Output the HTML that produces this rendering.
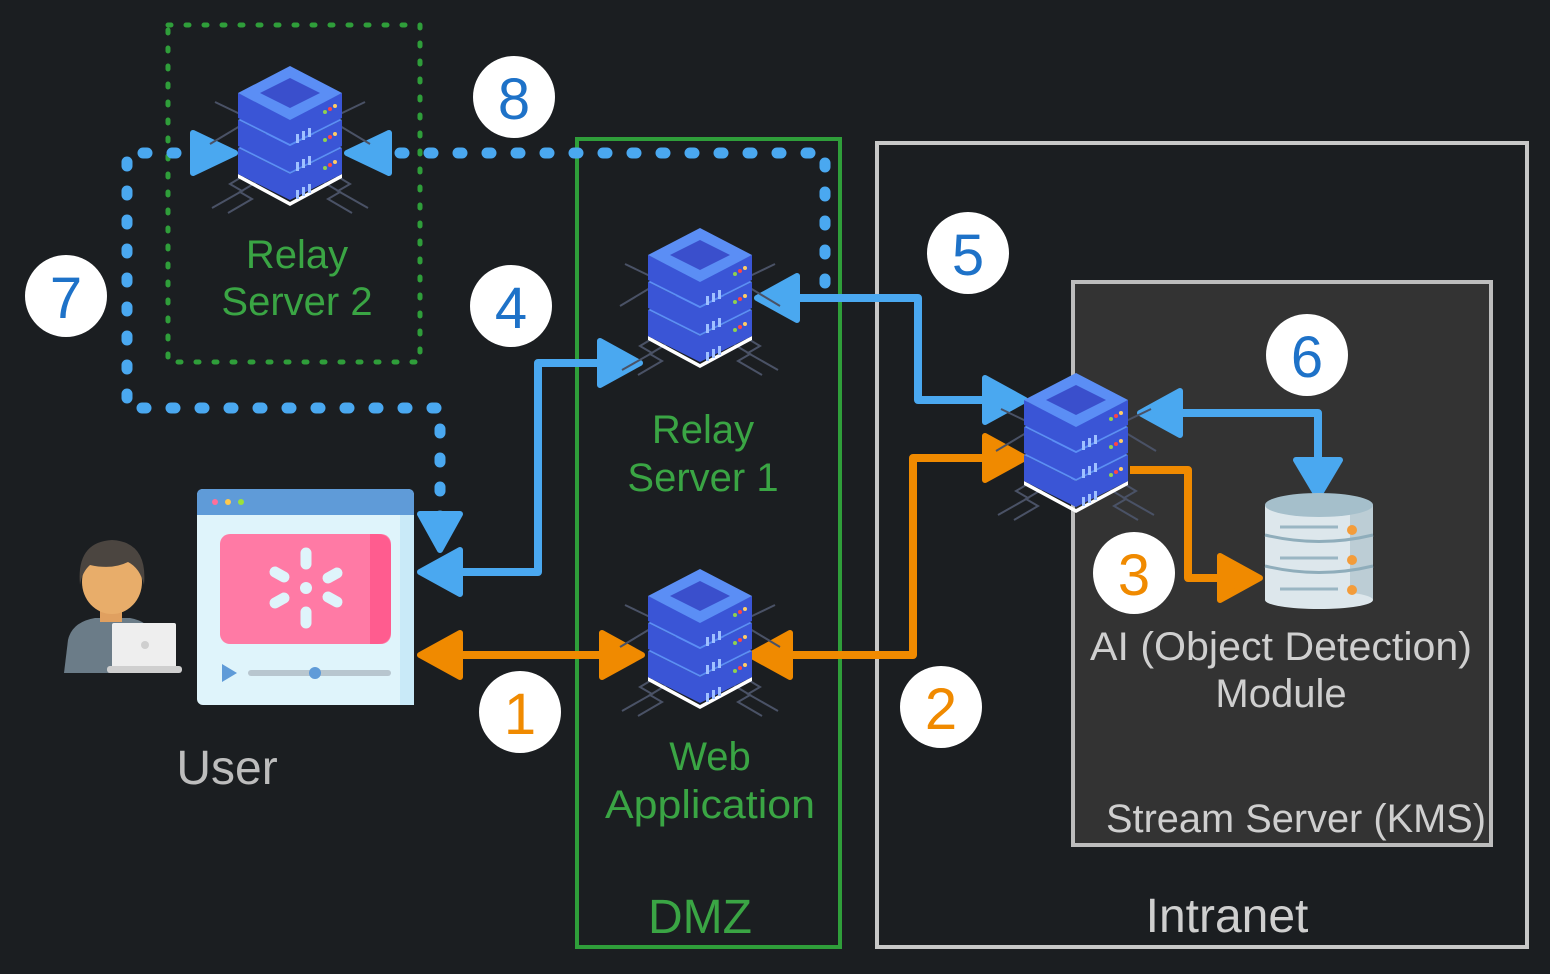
<!DOCTYPE html>
<html><head><meta charset="utf-8"><style>
html,body{margin:0;padding:0;background:#1b1e21;}
svg{display:block}
text{font-family:"Liberation Sans","DejaVu Sans",sans-serif;}
</style></head><body>
<svg width="1550" height="974" viewBox="0 0 1550 974" xmlns="http://www.w3.org/2000/svg">
<defs>
<g id="srv">
  <g stroke="#4a5266" stroke-width="2" fill="none">
    <path d="M-30 100 L-60 118 L-48 125 L-78 142"/><path d="M-20 108 L-50 126 L-38 133 L-62 147"/>
    <path d="M30 100 L60 118 L48 125 L78 142"/><path d="M20 108 L50 126 L38 133 L62 147"/>
    <path d="M-50 60 L-80 78"/><path d="M50 60 L80 78"/><path d="M-50 48 L-75 36"/><path d="M50 48 L75 36"/>
  </g>
  <path d="M-52 108 L0 136 L52 108 L52 112 L0 140 L-52 112Z" fill="#fff"/>
  <path d="M-52 82 L0 108 L0 134 L-52 108Z" fill="#3a55d6"/>
  <path d="M52 82 L0 108 L0 134 L52 108Z" fill="#3a55d6"/>
  <path d="M0 56 L52 82 L0 108 L-52 82Z" fill="#5b8ef5"/>
  <path d="M-52 54 L0 80 L0 106 L-52 80Z" fill="#3a55d6"/>
  <path d="M52 54 L0 80 L0 106 L52 80Z" fill="#3a55d6"/>
  <path d="M0 28 L52 54 L0 80 L-52 54Z" fill="#5b8ef5"/>
  <path d="M-52 27 L0 53 L0 78 L-52 52Z" fill="#3a55d6"/>
  <path d="M52 27 L0 53 L0 78 L52 52Z" fill="#3a55d6"/>
  <path d="M0 0 L52 27 L0 54 L-52 27Z" fill="#5b8ef5"/>
  <path d="M0 12 L30 27 L0 42 L-30 27Z" fill="#3a4fcc"/>
  <g fill="#9fc0ff"><rect x="6" y="68" width="3" height="9"/><rect x="12" y="65" width="3" height="9"/><rect x="18" y="62" width="3" height="9"/>
  <rect x="6" y="96" width="3" height="9"/><rect x="12" y="93" width="3" height="9"/><rect x="18" y="90" width="3" height="9"/>
  <rect x="6" y="124" width="3" height="9"/><rect x="12" y="121" width="3" height="9"/><rect x="18" y="118" width="3" height="9"/></g>
  <g><circle cx="35" cy="46" r="2" fill="#8fd14f"/><circle cx="40" cy="43" r="2" fill="#f44"/><circle cx="45" cy="40" r="2" fill="#fc6"/>
  <circle cx="35" cy="74" r="2" fill="#8fd14f"/><circle cx="40" cy="71" r="2" fill="#f44"/><circle cx="45" cy="68" r="2" fill="#fc6"/>
  <circle cx="35" cy="102" r="2" fill="#8fd14f"/><circle cx="40" cy="99" r="2" fill="#f44"/><circle cx="45" cy="96" r="2" fill="#fc6"/></g>
</g>
</defs>

<rect x="168" y="25" width="252" height="337" fill="none" stroke="#2f9e3a" stroke-width="5" stroke-dasharray="3 15" stroke-linecap="round"/>
<rect x="577" y="139" width="263" height="808" fill="none" stroke="#2f9e3a" stroke-width="4"/>
<rect x="877" y="143" width="650" height="804" fill="none" stroke="#c8c8c8" stroke-width="4"/>
<rect x="1073" y="282" width="418" height="563" fill="#333333" stroke="#bdbdbd" stroke-width="4"/>

<g fill="none" stroke="#4aa8f0" stroke-width="11" stroke-dasharray="4 25" stroke-linecap="round">
  <path d="M440 520 L440 408 L127 408 L127 153 L190 153"/>
  <path d="M400 153 L825 153 L825 290"/>
</g>

<g fill="none" stroke-width="8" stroke-linejoin="round">
  <path d="M455 572 L538 572 L538 363 L610 363" stroke="#4aa8f0"/>
  <path d="M790 298 L918 298 L918 400 L990 400" stroke="#4aa8f0"/>
  <path d="M1175 413 L1318 413 L1318 465" stroke="#4aa8f0"/>
  <path d="M455 655 L610 655" stroke="#f08a00"/>
  <path d="M790 655 L913 655 L913 458 L990 458" stroke="#f08a00"/>
  <path d="M1130 470 L1188 470 L1188 578 L1225 578" stroke="#f08a00"/>
</g>
<g fill="#4aa8f0" stroke="#4aa8f0" stroke-width="6" stroke-linejoin="round">
  <path d="M420 572 L460 550 L460 594Z"/>
  <path d="M640 363 L600 341 L600 385Z"/>
  <path d="M757 298 L797 276 L797 320Z"/>
  <path d="M1025 400 L985 378 L985 422Z"/>
  <path d="M1140 413 L1180 391 L1180 435Z"/>
  <path d="M1318 497 L1296 460 L1340 460Z"/>
  <path d="M440 550 L420 514 L460 514Z"/>
  <path d="M235 153 L193 133 L193 173Z"/>
  <path d="M347 153 L389 133 L389 173Z"/>
</g>
<g fill="#f08a00" stroke="#f08a00" stroke-width="6" stroke-linejoin="round">
  <path d="M420 655 L460 633 L460 677Z"/>
  <path d="M642 655 L602 633 L602 677Z"/>
  <path d="M750 655 L790 633 L790 677Z"/>
  <path d="M1025 458 L985 436 L985 480Z"/>
  <path d="M1260 578 L1220 556 L1220 600Z"/>
</g>

<use href="#srv" x="290" y="66"/>
<use href="#srv" x="700" y="228"/>
<use href="#srv" x="700" y="569"/>
<use href="#srv" x="1076" y="373"/>

<g>
  <rect x="1265" y="505" width="108" height="95" fill="#dde7ec"/>
  <rect x="1350" y="505" width="23" height="95" fill="#bccdd5"/>
  <ellipse cx="1319" cy="600" rx="54" ry="9" fill="#dde7ec"/>
  <ellipse cx="1319" cy="505" rx="54" ry="12" fill="#a5bfcb"/>
  <path d="M1265 535 Q1319 548 1373 535 M1265 566 Q1319 579 1373 566" stroke="#8fadbb" stroke-width="3" fill="none"/>
  <path d="M1280 527 H1338 M1280 558 H1338 M1280 589 H1338" stroke="#9ab6c3" stroke-width="3"/>
  <circle cx="1352" cy="530" r="5" fill="#f39c3a"/><circle cx="1352" cy="560" r="5" fill="#f39c3a"/><circle cx="1352" cy="590" r="5" fill="#f39c3a"/>
</g>

<g>
  <rect x="197" y="489" width="217" height="216" rx="6" fill="#dff4fb"/>
  <rect x="400" y="505" width="14" height="200" fill="#c9eaf8"/>
  <path d="M203 489 H408 Q414 489 414 495 V515 H197 V495 Q197 489 203 489Z" fill="#5f9bd8"/>
  <circle cx="215" cy="502" r="3" fill="#ff6f9a"/><circle cx="228" cy="502" r="3" fill="#ffc94d"/><circle cx="241" cy="502" r="3" fill="#9be23a"/>
  <rect x="220" y="534" width="171" height="110" rx="10" fill="#ff7aa5"/>
  <path d="M377 534 Q391 534 391 548 V630 Q391 644 377 644 H370 V534Z" fill="#ff5c8f"/>
  <g stroke="#dff4fb" stroke-width="11" stroke-linecap="round">
    <path d="M306 553 V564 M306 612 V623 M275 572 L284 577 M328 597 L337 602 M275 603 L284 598 M328 578 L337 573"/>
  </g>
  <circle cx="306" cy="588" r="6" fill="#dff4fb"/>
  <path d="M222 664 L237 673 L222 682Z" fill="#5f9bd8"/>
  <rect x="248" y="670" width="143" height="6" rx="3" fill="#b8c6cf"/>
  <circle cx="315" cy="673" r="6" fill="#5f9bd8"/>
</g>
<g>
  <path d="M64 673 L68 640 Q72 622 95 618 L130 618 Q152 622 155 640 L158 673Z" fill="#6b7c88"/>
  <rect x="100" y="600" width="22" height="22" fill="#e0a060"/>
  <ellipse cx="112" cy="582" rx="30" ry="32" fill="#e8ad6a"/>
  <path d="M80 585 Q76 542 112 540 Q148 542 144 585 Q140 568 128 562 Q112 570 90 565 Q82 572 80 585Z" fill="#4b4540"/>
  <rect x="112" y="623" width="64" height="45" rx="2" fill="#eeeeee"/>
  <rect x="107" y="666" width="75" height="7" rx="3" fill="#cfcfcf"/>
  <circle cx="145" cy="645" r="4" fill="#cfcfcf"/>
</g>

<g font-size="58" text-anchor="middle">
  <circle cx="514" cy="97" r="41" fill="#fff"/><text x="514" y="119" fill="#1e72c8">8</text>
  <circle cx="511" cy="306" r="41" fill="#fff"/><text x="511" y="328" fill="#1e72c8">4</text>
  <circle cx="66" cy="296" r="41" fill="#fff"/><text x="66" y="318" fill="#1e72c8">7</text>
  <circle cx="968" cy="253" r="41" fill="#fff"/><text x="968" y="275" fill="#1e72c8">5</text>
  <circle cx="1307" cy="355" r="41" fill="#fff"/><text x="1307" y="377" fill="#1e72c8">6</text>
  <circle cx="1134" cy="573" r="41" fill="#fff"/><text x="1134" y="595" fill="#f08a00">3</text>
  <circle cx="520" cy="712" r="41" fill="#fff"/><text x="520" y="734" fill="#f08a00">1</text>
  <circle cx="941" cy="707" r="41" fill="#fff"/><text x="941" y="729" fill="#f08a00">2</text>
</g>

<g font-size="40" text-anchor="middle" fill="#3aa544">
  <text x="297" y="268">Relay</text><text x="297" y="315">Server 2</text>
  <text x="703" y="443">Relay</text><text x="703" y="491">Server 1</text>
  <text x="710" y="770">Web</text><text x="710" y="818" textLength="210" lengthAdjust="spacingAndGlyphs">Application</text>
  <text x="700" y="933" font-size="48">DMZ</text>
</g>
<text x="1227" y="932" font-size="48" text-anchor="middle" fill="#cfcfcf">Intranet</text>
<text x="227" y="784" font-size="48" text-anchor="middle" fill="#bdbdbd">User</text>
<g font-size="40" text-anchor="middle" fill="#cfcfcf">
  <text x="1281" y="660" textLength="382" lengthAdjust="spacingAndGlyphs">AI (Object Detection)</text>
  <text x="1281" y="707">Module</text>
  <text x="1296" y="832" textLength="380" lengthAdjust="spacingAndGlyphs">Stream Server (KMS)</text>
</g>
</svg>
</body></html>
